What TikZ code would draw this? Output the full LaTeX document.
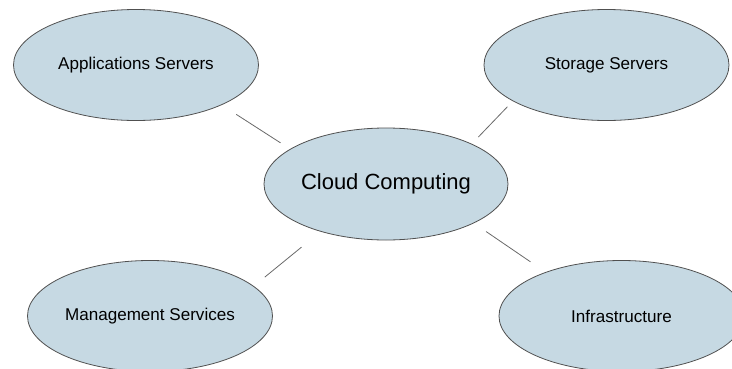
\documentclass[tikz,border=0pt]{standalone}
\usepackage{fontspec}
\setmainfont{Liberation Sans}
\usetikzlibrary{shapes.geometric}

\definecolor{bolla}{RGB}{198,217,227}
\definecolor{bordo}{RGB}{80,80,80}
\definecolor{linea}{RGB}{105,105,105}

\tikzset{
    bubble/.style={ellipse, draw=bordo, fill=bolla, line width=0.6pt,
        minimum width=183.75pt, minimum height=83.25pt,
        inner sep=0pt, outer sep=0pt, font=\fontsize{12.8}{15}\selectfont},
    link/.style={draw=linea, line width=0.6pt}
}

\begin{document}
\begin{tikzpicture}[x=0.75pt, y=-0.75pt]
    % Area del disegno
    \useasboundingbox (0,0) rectangle (732,368);

    % Nodo centrale
    \node[bubble, minimum width=183pt, minimum height=84pt, font=\fontsize{16.5}{19}\selectfont] (cloud) at (386,184) {Cloud Computing};

    % Nodi esterni
    \foreach \nome/\x/\y/\testo in {app/136/65/Applications Servers, store/606.5/65/Storage Servers, mgmt/150/316/Management Services, infra/621.5/316/Infrastructure} {
        \node[bubble] (\nome) at (\x,\y) {\testo};
    }

    % Collegamenti (non toccano i bordi)
    \draw[link, shorten <=13.3pt, shorten >=8.8pt] (app.-25.6) -- (cloud.160.9);
    \draw[link, shorten <=6.1pt, shorten >=7.3pt] (store.201.4) -- (cloud.25.25);
    \draw[link, shorten <=18.7pt, shorten >=10.9pt] (cloud.216.4) -- (mgmt.16.3);
    \draw[link, shorten <=11.4pt, shorten >=14pt] (cloud.-24.6) -- (infra.150.1);
\end{tikzpicture}
\end{document}
